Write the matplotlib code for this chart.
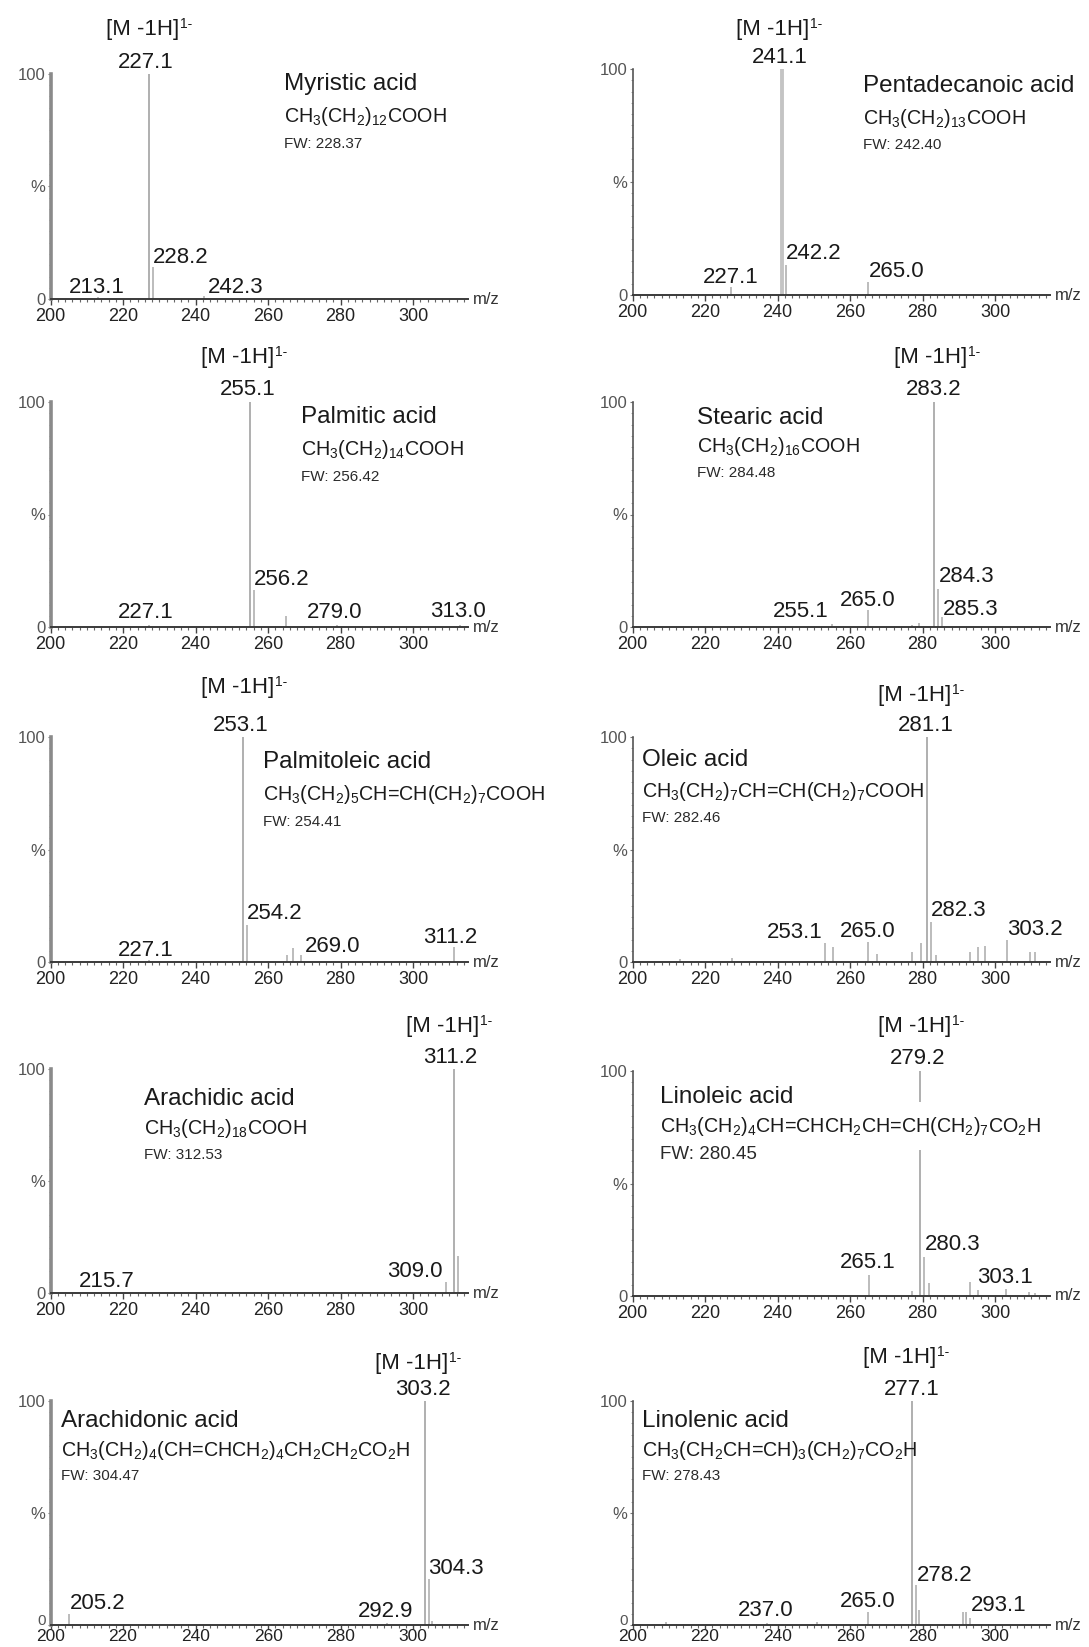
import matplotlib
matplotlib.use("Agg")
import matplotlib.pyplot as plt
import matplotlib.transforms as mtransforms
from matplotlib.ticker import MultipleLocator, FixedLocator

plt.rcParams['font.family'] = ['Liberation Sans', 'DejaVu Sans']
plt.rcParams['mathtext.fontset'] = 'custom'
plt.rcParams['mathtext.rm'] = 'Liberation Sans'
plt.rcParams['mathtext.it'] = 'Liberation Sans:italic'
plt.rcParams['mathtext.bf'] = 'Liberation Sans:bold'

# ---------------- data ----------------
names = ["Myristic acid", "Pentadecanoic acid", "Palmitic acid", "Stearic acid",
         "Palmitoleic acid", "Oleic acid", "Arachidic acid", "Linoleic acid",
         "Arachidonic acid", "Linolenic acid"]
formulas = [
    r"CH$_3$(CH$_2$)$_{12}$COOH",
    r"CH$_3$(CH$_2$)$_{13}$COOH",
    r"CH$_3$(CH$_2$)$_{14}$COOH",
    r"CH$_3$(CH$_2$)$_{16}$COOH",
    r"CH$_3$(CH$_2$)$_5$CH=CH(CH$_2$)$_7$COOH",
    r"CH$_3$(CH$_2$)$_7$CH=CH(CH$_2$)$_7$COOH",
    r"CH$_3$(CH$_2$)$_{18}$COOH",
    r"CH$_3$(CH$_2$)$_4$CH=CHCH$_2$CH=CH(CH$_2$)$_7$CO$_2$H",
    r"CH$_3$(CH$_2$)$_4$(CH=CHCH$_2$)$_4$CH$_2$CH$_2$CO$_2$H",
    r"CH$_3$(CH$_2$CH=CH)$_3$(CH$_2$)$_7$CO$_2$H",
]
fw_values = ["228.37", "242.40", "256.42", "284.48", "254.41",
             "282.46", "312.53", "280.45", "304.47", "278.43"]
ion_label = "[M -1H]"
ion_charge = "1-"
x_ticks = [200, 220, 240, 260, 280, 300]

# peaks (m/z, relative intensity %)
myristic_mz = [213.1, 227.1, 228.2, 242.3]
myristic_int = [0.8, 100, 14.4, 1.2]
myristic_labeled = [227.1, 228.2, 213.1, 242.3]

pentadecanoic_mz = [227.1, 241.1, 242.2, 265.0]
pentadecanoic_int = [3.4, 100, 13.3, 5.9]
pentadecanoic_labeled = [241.1, 242.2, 227.1, 265.0]

palmitic_mz = [227.1, 255.1, 256.2, 265.0, 279.0, 313.0]
palmitic_int = [0.8, 100, 16.6, 4.7, 0.8, 1.0]
palmitic_labeled = [255.1, 256.2, 227.1, 279.0, 313.0]

stearic_mz = [255.1, 265.0, 277.0, 279.0, 283.2, 284.3, 285.3]
stearic_int = [1.5, 7.4, 1.0, 2.0, 100, 17.0, 4.4]
stearic_labeled = [283.2, 284.3, 285.3, 255.1, 265.0]

palmitoleic_mz = [227.1, 253.1, 254.2, 265.2, 267.0, 269.0, 311.2]
palmitoleic_int = [0.8, 100, 16.6, 3.0, 6.2, 3.3, 6.5]
palmitoleic_labeled = [253.1, 254.2, 227.1, 269.0, 311.2]

oleic_mz = [213.0, 227.4, 253.1, 255.2, 265.0, 267.3, 277.1, 279.5, 281.1,
            282.3, 283.6, 293.2, 295.4, 297.3, 303.2, 309.5, 311.1]
oleic_int = [1.5, 2.0, 8.4, 6.7, 8.7, 3.5, 4.4, 8.4, 100,
             18.0, 3.0, 4.3, 6.7, 7.3, 9.6, 4.3, 4.3]
oleic_labeled = [281.1, 282.3, 253.1, 265.0, 303.2]

arachidic_mz = [215.7, 309.0, 311.2, 312.3]
arachidic_int = [0.5, 4.8, 100, 16.4]
arachidic_labeled = [311.2, 309.0, 215.7]

linoleic_mz = [265.1, 277.1, 279.2, 280.3, 281.7, 293.2, 295.4, 303.1, 309.4, 311.1]
linoleic_int = [9.5, 2.2, 100, 17.3, 5.8, 6.1, 2.5, 3.1, 1.8, 1.5]
linoleic_labeled = [279.2, 280.3, 265.1, 303.1]

arachidonic_mz = [205.2, 292.9, 303.2, 304.3, 305.3]
arachidonic_int = [4.9, 1.0, 100, 20.4, 2.0]
arachidonic_labeled = [303.2, 304.3, 205.2, 292.9]

linolenic_mz = [209.3, 237.0, 251.0, 265.0, 277.1, 278.2, 279.1, 291.2, 292.0, 293.1]
linolenic_int = [1.5, 1.0, 1.5, 5.9, 100, 17.8, 6.7, 5.9, 5.9, 3.0]
linolenic_labeled = [277.1, 278.2, 265.0, 237.0, 293.1]

peak_mz = [myristic_mz, pentadecanoic_mz, palmitic_mz, stearic_mz, palmitoleic_mz,
           oleic_mz, arachidic_mz, linoleic_mz, arachidonic_mz, linolenic_mz]
peak_int = [myristic_int, pentadecanoic_int, palmitic_int, stearic_int, palmitoleic_int,
            oleic_int, arachidic_int, linoleic_int, arachidonic_int, linolenic_int]
peak_labeled = [myristic_labeled, pentadecanoic_labeled, palmitic_labeled, stearic_labeled,
                palmitoleic_labeled, oleic_labeled, arachidic_labeled, linoleic_labeled,
                arachidonic_labeled, linolenic_labeled]

# ---------------- layout ----------------
W, H = 1089, 1647
# (x0 px, y100 px, y0 px)
boxes = [(50.5, 74, 299), (632.5, 69, 295),
         (50.5, 402, 627), (632.5, 402, 627),
         (50.5, 737, 962), (632.5, 737, 962),
         (50.5, 1069, 1293), (632.5, 1071, 1296),
         (50.5, 1401, 1625), (632.5, 1401, 1625)]
AX_W = 417
# ion label position (x left, y baseline) in data coords
ion_pos = [(215.3, 117.3), (228.5, 115.0), (241.5, 117.2), (272.1, 117.2), (241.5, 119.7),
           (267.8, 116.1), (298.0, 116.7), (267.8, 117.5), (289.4, 114.1), (263.5, 116.8)]
# name block: (x left, name baseline, formula baseline, fw baseline)
name_pos = [(264.5, 92.9, 78.7, 67.1), (263.5, 89.8, 75.7, 64.6), (269.0, 90.5, 76.3, 64.7),
            (217.7, 90.0, 77.6, 66.5), (258.7, 86.4, 72.1, 60.6), (202.7, 86.9, 73.5, 62.4),
            (225.9, 83.9, 71.0, 59.7), (207.5, 85.9, 73.0, 60.7), (202.9, 88.6, 75.6, 64.6),
            (202.7, 88.6, 75.6, 64.6)]
fw_size = [11, 11, 11, 11, 11, 11, 11, 13.5, 11, 11]
# peak label positions (x left, y baseline), same order as *_labeled
label_pos = [
    [(218.7, 102.7), (228.3, 16.0), (205.1, 2.7), (243.4, 2.7)],
    [(233.0, 102.7), (242.2, 15.9), (219.3, 5.3), (265.1, 8.0)],
    [(246.7, 103.0), (256.0, 18.5), (218.7, 3.9), (270.6, 3.9), (304.7, 4.3)],
    [(275.5, 103.0), (284.6, 19.9), (285.5, 5.2), (238.6, 4.3), (257.1, 9.2)],
    [(244.8, 102.8), (254.1, 19.2), (218.7, 2.8), (270.2, 4.6), (302.8, 8.6)],
    [(273.1, 102.8), (282.4, 20.6), (237.0, 10.8), (257.1, 11.3), (303.3, 12.2)],
    [(302.8, 102.8), (292.7, 7.0), (207.7, 2.8)],
    [(271.0, 103.1), (280.5, 20.4), (257.1, 12.3), (295.1, 5.9)],
    [(294.9, 102.7), (304.0, 22.7), (205.3, 7.1), (284.7, 3.7)],
    [(269.3, 102.7), (278.5, 19.7), (257.1, 7.9), (229.0, 4.1), (293.2, 6.4)],
]

LBL_FS = 16
NAME_FS = 17.5
FORM_FS = 14.2

fig = plt.figure(figsize=(W / 100, H / 100), dpi=100)
fig.patch.set_facecolor('white')

for i in range(10):
    x0, y100, y0 = boxes[i]
    ax = fig.add_axes([x0 / W, 1 - y0 / H, AX_W / W, (y0 - y100) / H])
    ax.set_xlim(200, 315)
    ax.set_ylim(0, 100)
    ax.patch.set_alpha(0)
    left_col = (i % 2 == 0)
    last_row = (i >= 8)

    mz = peak_mz[i]
    it = peak_int[i]
    for m, v in zip(mz, it):
        lw = 1.3 if v >= 99 else 1.1
        col = '#a9a9a9'
        if i == 1 and v >= 99:
            lw = 2.8
            col = '#c4c4c4'
        ax.vlines(m, 0, v, color=col, lw=lw, zorder=2)

    for s in ['top', 'right']:
        ax.spines[s].set_visible(False)
    ax.spines['bottom'].set_color('#3a3a3a')
    ax.spines['bottom'].set_linewidth(1.4)
    if left_col:
        ax.spines['left'].set_color('#8a8a8a')
        ax.spines['left'].set_linewidth(2.6)
    else:
        ax.spines['left'].set_color('#555555')
        ax.spines['left'].set_linewidth(1.2)

    ax.xaxis.set_major_locator(FixedLocator(x_ticks))
    ax.xaxis.set_minor_locator(MultipleLocator(2))
    ax.set_xticklabels([str(t) for t in x_ticks])
    ax.tick_params(axis='x', which='major', length=3 if last_row else 4, width=1.0,
                   color='#444444', labelsize=12.5 if last_row else 13,
                   labelcolor='#222222', pad=0.2 if last_row else 2.2)
    ax.tick_params(axis='x', which='minor', length=2, width=0.8, color='#666666')
    ax.yaxis.set_major_locator(FixedLocator([0, 50, 100]))
    ax.set_yticklabels(['0', '%', '100'])
    ax.yaxis.set_minor_locator(MultipleLocator(5))
    ax.tick_params(axis='y', which='major', length=2, width=0.8, color='#777777',
                   labelsize=12, labelcolor='#555555', pad=1.5)
    ax.tick_params(axis='y', which='minor', length=1.5, width=0.6, color='#999999')
    if last_row:
        zero_lbl = ax.get_yticklabels()[0]
        zero_lbl.set_fontsize(11)
        zero_lbl.set_transform(zero_lbl.get_transform() +
                               mtransforms.ScaledTranslation(0, 4 / 72, fig.dpi_scale_trans))

    ax.text(1.012, 0, "m/z", transform=ax.transAxes, fontsize=12, color='#333333',
            va='center', ha='left')

    # ion label with small superscript charge
    ix, iy = ion_pos[i]
    t_ion = ax.text(ix, iy, ion_label, fontsize=LBL_FS, color='#1a1a1a',
                    ha='left', va='baseline', clip_on=False)
    ax.annotate(ion_charge, xy=(1.0, 1.0), xycoords=t_ion, xytext=(0.5, 1.5),
                textcoords='offset points', fontsize=10, color='#1a1a1a',
                ha='left', va='top', annotation_clip=False)

    # peak labels
    for m, (lx, ly) in zip(peak_labeled[i], label_pos[i]):
        ax.text(lx, ly, f"{m:.1f}", fontsize=LBL_FS, color='#1a1a1a',
                ha='left', va='baseline', clip_on=False, zorder=4)

    nx, ny, fy, wy = name_pos[i]
    ax.text(nx, ny, names[i], fontsize=NAME_FS, color='#1a1a1a', ha='left', va='baseline',
            zorder=6)
    bbox = None
    if i == 7:
        bbox = dict(facecolor='white', edgecolor='none', pad=9)
    ax.text(nx, fy, formulas[i], fontsize=FORM_FS, color='#1a1a1a', ha='left', va='baseline',
            zorder=4, bbox=bbox)
    ax.text(nx, wy, "FW: " + fw_values[i], fontsize=fw_size[i], color='#2a2a2a',
            ha='left', va='baseline', zorder=6)

fig.savefig("out.png", dpi=100, facecolor='white')
